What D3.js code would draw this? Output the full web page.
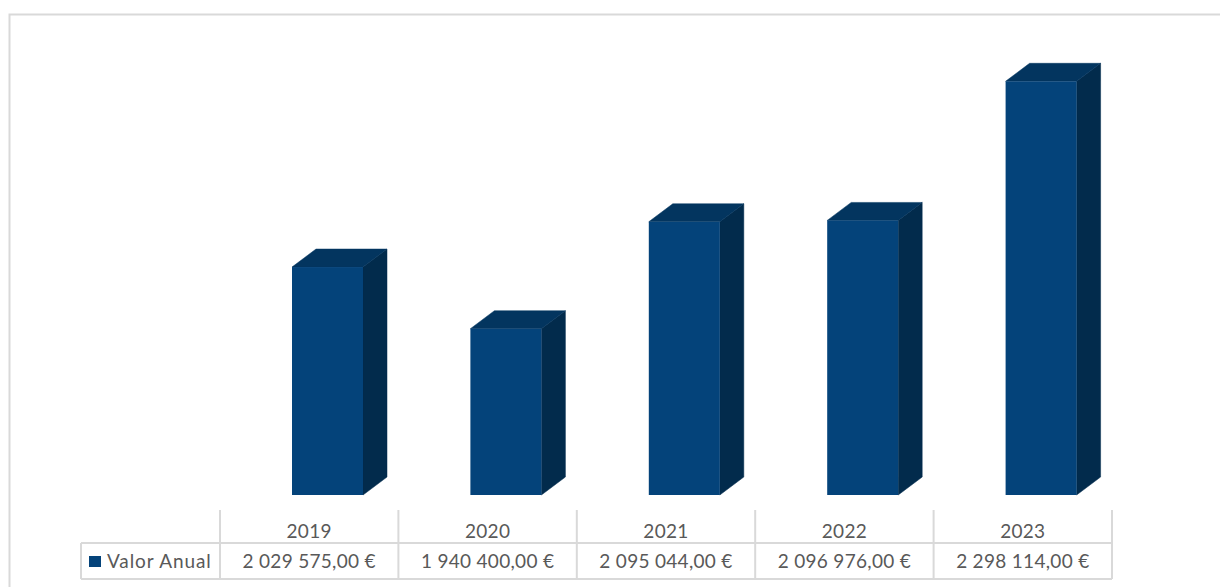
<!DOCTYPE html>
<html>
<head>
<meta charset="utf-8">
<script src="https://cdn.jsdelivr.net/npm/d3@7"></script>
<style>
  body { margin: 0; background: #fff; }
  svg text { font-family: Lato, "Open Sans", sans-serif; fill: #595959; }
</style>
</head>
<body>
<svg id="chart" width="1220" height="587"></svg>
<script>
const years = ['2019', '2020', '2021', '2022', '2023'];
const values = [2029575, 1940400, 2095044, 2096976, 2298114];
const seriesName = 'Valor Anual';
const valueLabels = ['2 029 575,00 €', '1 940 400,00 €', '2 095 044,00 €', '2 096 976,00 €', '2 298 114,00 €'];

const svg = d3.select('#chart');
const frontColor = '#04437a';
const topColor = '#03355f';
const sideColor = '#022b4c';
const gridColor = '#d9d9d9';

// outer chart border (top + left only visible)
svg.append('path')
  .attr('d', 'M9.5,587 V14.5 H1220')
  .attr('fill', 'none')
  .attr('stroke', gridColor)
  .attr('stroke-width', 2);

const x = d3.scaleBand()
  .domain(years)
  .range([220, 1112]);

const y = d3.scaleLinear()
  .domain([1700000, 2300000])
  .range([495, 80]);

const depthX = 24;
const depthY = 18;
const barOffset = 72;
const barW = 71;

const bars = svg.append('g');
years.forEach((yr, i) => {
  const x0 = x(yr) + barOffset;
  const x1 = x0 + barW;
  const yTop = y(values[i]);
  const yBase = y(1700000);
  // side
  bars.append('path')
    .attr('d', `M${x1},${yTop} L${x1 + depthX},${yTop - depthY} L${x1 + depthX},${yBase - depthY} L${x1},${yBase} Z`)
    .attr('fill', sideColor)
    .attr('stroke', sideColor)
    .attr('stroke-width', 0.5);
  // top
  bars.append('path')
    .attr('d', `M${x0},${yTop} L${x0 + depthX},${yTop - depthY} L${x1 + depthX},${yTop - depthY} L${x1},${yTop} Z`)
    .attr('fill', topColor)
    .attr('stroke', topColor)
    .attr('stroke-width', 0.5);
  // front
  bars.append('rect')
    .attr('x', x0)
    .attr('y', yTop)
    .attr('width', barW)
    .attr('height', yBase - yTop)
    .attr('fill', frontColor);
});

// data table
const tHead = 510, tRow = 543, tBot = 579, tLeft = 81;
const table = svg.append('g')
  .attr('stroke', gridColor)
  .attr('stroke-width', 2)
  .attr('fill', 'none');

const colEdges = years.map(d => x(d)).concat([x.range()[1]]);
colEdges.forEach(cx => {
  table.append('line')
    .attr('x1', cx).attr('x2', cx)
    .attr('y1', tHead).attr('y2', tBot);
});
table.append('line').attr('x1', tLeft).attr('x2', tLeft).attr('y1', tRow).attr('y2', tBot);
[tRow, tBot].forEach(ly => {
  table.append('line')
    .attr('x1', tLeft).attr('x2', x.range()[1])
    .attr('y1', ly).attr('y2', ly);
});

svg.selectAll('.yearLabel')
  .data(years)
  .enter()
  .append('text')
  .attr('class', 'yearLabel')
  .attr('x', d => x(d) + x.bandwidth() / 2)
  .attr('y', 538)
  .attr('text-anchor', 'middle')
  .style('font-size', '19px')
  .style('letter-spacing', '0.3px')
  .text(d => d);

svg.selectAll('.valLabel')
  .data(valueLabels)
  .enter()
  .append('text')
  .attr('class', 'valLabel')
  .attr('x', (d, i) => x(years[i]) + x.bandwidth() / 2)
  .attr('y', 568)
  .attr('text-anchor', 'middle')
  .style('font-size', '19px')
  .style('letter-spacing', '0.3px')
  .text(d => d);

svg.append('rect')
  .attr('x', 89).attr('y', 556)
  .attr('width', 12).attr('height', 11)
  .attr('fill', frontColor);
svg.append('text')
  .attr('x', 107)
  .attr('y', 568)
  .style('font-size', '19px')
  .style('letter-spacing', '0.9px')
  .text(seriesName);
</script>
</body>
</html>
